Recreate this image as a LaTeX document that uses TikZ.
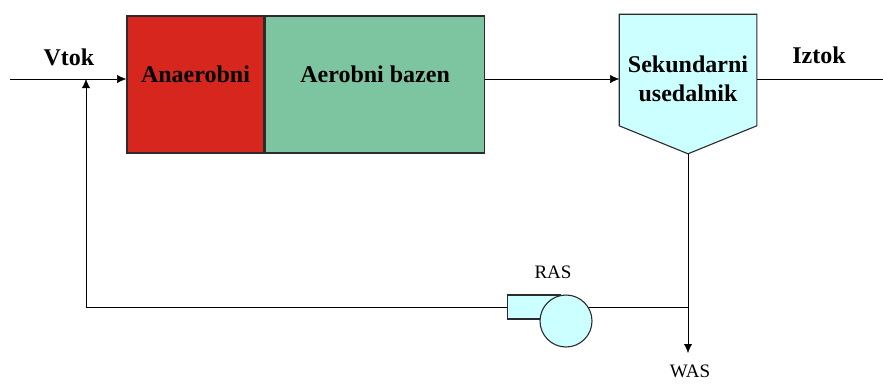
\documentclass[tikz,border=0pt]{standalone}
\usepackage{fontspec}
\setmainfont{Liberation Serif}
\usepackage{xcolor}
\usepackage{tikz}
\usetikzlibrary{arrows.meta,backgrounds,calc}
\definecolor{anaer}{HTML}{D7261E}
\definecolor{aer}{HTML}{7DC4A0}
\definecolor{settler}{HTML}{CCFFFF}
\definecolor{edge}{HTML}{2B2B2B}

\begin{document}
\begin{tikzpicture}[x=1pt, y=-1pt, >={Latex[length=9pt,width=8pt]}, line width=1.6pt,
  every node/.style={inner sep=0pt},
  big/.style={font=\fontsize{24}{29}\selectfont\bfseries, align=center},
  tag/.style={font=\fontsize{19}{22}\selectfont},
  tank/.style={draw=edge, minimum height=137pt, line width=1.6pt},
  unit/.style={draw=edge, fill=settler, line width=1.1pt}]
  \useasboundingbox (0,0) rectangle (883,383);
  % tanks
  \node[tank, fill=anaer, minimum width=137pt,
    label={[big, yshift=10.7pt]center:Anaerobni}] (anaer) at (195.5,84.5) {};
  \node[tank, fill=aer, minimum width=219pt, anchor=west,
    label={[big, yshift=10.7pt]center:Aerobni bazen}] (aer) at (anaer.east) {};
  % secondary clarifier
  \node[minimum width=136pt, minimum height=110pt,
    label={[big, yshift=-8.5pt]center:Sekundarni\\usedalnik}] (clar) at (688,70) {};
  \coordinate (tip) at ($(clar.south)+(0,28)$);
  \begin{scope}[on background layer]
    \draw[unit] (clar.north west) -- (clar.north east) -- (clar.south east)
      -- (tip) -- (clar.south west) -- cycle;
  \end{scope}
  % RAS pump
  \node[unit, minimum width=53pt, minimum height=24pt, anchor=west] (pbox) at (507,307) {};
  \node[unit, circle, minimum size=52pt] (pump) at (566,321) {};
  % labels
  \node[big] (vtok) at (69,57) {Vtok};
  \node[big] (iztok) at (819,55) {Iztok};
  \node[tag] (ras) at (553,272) {RAS};
  \node[tag] (was) at (690,371) {WAS};
  \coordinate (in) at (10,79);
  \coordinate (out) at (883,79);
  \coordinate (mix) at (86,79);
  \coordinate (junc) at (688,307);
  \coordinate (wasend) at (688,353);
  % flows
  \begin{scope}[on background layer]
    \draw[->] (in) -- (in -| anaer.west);
    \draw[->] (aer.east |- in) -- (clar.west |- in);
    \draw (clar.east |- in) -- (out);
    \draw[->] (tip) -- (wasend);
    \draw (junc) -- (pump.center |- junc);
    \draw[->] (pbox.west) -| (mix);
  \end{scope}
\end{tikzpicture}
\end{document}
